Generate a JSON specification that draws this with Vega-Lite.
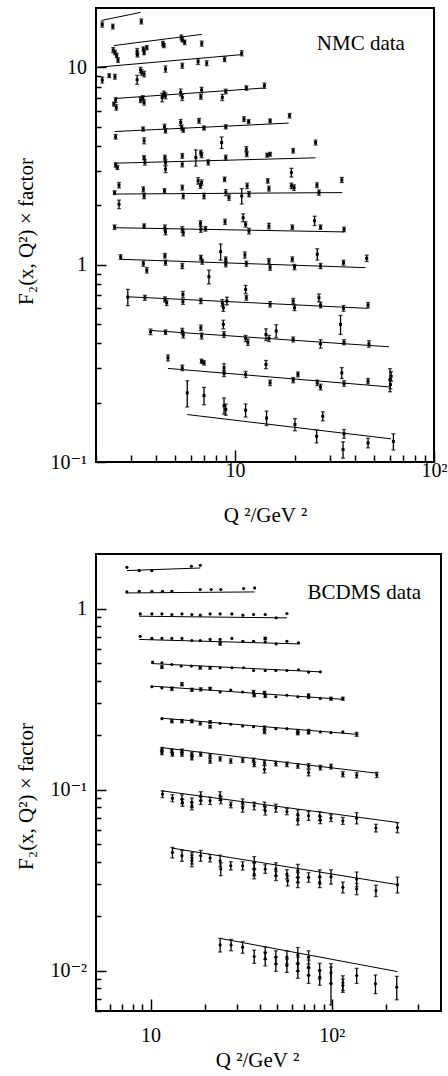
{
  "$schema": "https://vega.github.io/schema/vega-lite/v6.json",
  "padding": {"left": 14, "top": 7, "right": 0, "bottom": 0},
  "bounds": "flush",
  "spacing": 92,
  "config": {
    "font": "Liberation Serif, Times New Roman, Times, DejaVu Serif, serif",
    "view": {"stroke": "black", "strokeWidth": 2},
    "text": {"font": "Liberation Serif, Times New Roman, Times, DejaVu Serif, serif"},
    "axis": {"grid": false, "domain": false, "tickColor": "black", "tickWidth": 1.5, "labelColor": "black", "titleColor": "black", "labelFont": "Liberation Serif, Times New Roman, Times, DejaVu Serif, serif", "titleFont": "Liberation Serif, Times New Roman, Times, DejaVu Serif, serif", "labelFontSize": 20, "titleFontSize": 21, "titleFontWeight": "normal", "labelOverlap": false, "labelFlush": false, "labelBound": false}
  },
  "datasets": {
    "nmcPts": [
      {"q":2.15,"f":16.5,"e":0.5},{"q":2.43,"f":16.1,"e":0.45},{"q":3.38,"f":17.1,"e":0.5},
      {"q":2.44,"f":12.25,"e":0.35},{"q":2.49,"f":11.9,"e":0.3},{"q":2.54,"f":11.5,"e":0.3},{"q":2.58,"f":10.9,"e":0.3},{"q":3.22,"f":12.06,"e":0.4},{"q":3.23,"f":11.6,"e":0.3},{"q":3.46,"f":12.4,"e":0.3},{"q":3.49,"f":11.9,"e":0.3},{"q":3.6,"f":12.6,"e":0.3},{"q":4.34,"f":13.2,"e":0.35},{"q":4.39,"f":12.9,"e":0.3},{"q":5.37,"f":14.2,"e":0.4},{"q":5.43,"f":13.8,"e":0.35},{"q":5.58,"f":13.4,"e":0.35},{"q":6.8,"f":13.2,"e":0.4},
      {"q":2.15,"f":8.63,"e":0.3},{"q":2.33,"f":9.08,"e":0.2},{"q":2.49,"f":8.97,"e":0.25},{"q":3.22,"f":8.66,"e":0.45},{"q":3.35,"f":9.7,"e":0.3},{"q":3.39,"f":9.43,"e":0.3},{"q":3.49,"f":9.26,"e":0.3},{"q":4.47,"f":9.81,"e":0.35},{"q":5.43,"f":10.2,"e":0.3},{"q":6.52,"f":10.7,"e":0.35},{"q":7.2,"f":10.5,"e":0.3},{"q":8.86,"f":11.0,"e":0.3},{"q":10.8,"f":11.8,"e":0.35},
      {"q":2.51,"f":6.83,"e":0.2},{"q":2.46,"f":6.52,"e":0.15},{"q":2.53,"f":6.27,"e":0.2},{"q":3.35,"f":6.83,"e":0.2},{"q":3.44,"f":6.99,"e":0.2},{"q":3.49,"f":6.64,"e":0.2},{"q":4.3,"f":7.04,"e":0.35},{"q":4.39,"f":7.33,"e":0.25},{"q":4.47,"f":7.18,"e":0.25},{"q":5.33,"f":7.47,"e":0.3},{"q":5.43,"f":7.04,"e":0.25},{"q":6.79,"f":7.68,"e":0.25},{"q":6.73,"f":7.1,"e":0.2},{"q":8.63,"f":7.04,"e":0.25},{"q":8.98,"f":7.55,"e":0.2},{"q":11.4,"f":7.86,"e":0.2},{"q":14.05,"f":8.08,"e":0.25},
      {"q":2.51,"f":4.45,"e":0.12},{"q":3.45,"f":4.87,"e":0.12},{"q":3.49,"f":4.25,"e":0.15},{"q":4.42,"f":5.0,"e":0.15},{"q":4.47,"f":4.77,"e":0.12},{"q":5.33,"f":5.26,"e":0.18},{"q":5.39,"f":4.96,"e":0.15},{"q":5.49,"f":4.81,"e":0.12},{"q":6.59,"f":5.36,"e":0.15},{"q":6.98,"f":4.93,"e":0.12},{"q":8.56,"f":4.16,"e":0.28},{"q":8.98,"f":5.0,"e":0.12},{"q":11.09,"f":5.47,"e":0.15},{"q":11.7,"f":5.32,"e":0.12},{"q":15.0,"f":5.36,"e":0.12},{"q":18.8,"f":5.69,"e":0.15},
      {"q":2.51,"f":3.2,"e":0.08},{"q":2.56,"f":3.11,"e":0.07},{"q":3.49,"f":3.49,"e":0.08},{"q":3.52,"f":3.3,"e":0.1},{"q":4.44,"f":3.49,"e":0.1},{"q":4.47,"f":3.3,"e":0.1},{"q":4.47,"f":3.05,"e":0.12},{"q":5.43,"f":3.56,"e":0.1},{"q":5.43,"f":3.23,"e":0.1},{"q":6.35,"f":3.49,"e":0.33},{"q":6.73,"f":3.7,"e":0.1},{"q":6.79,"f":3.59,"e":0.1},{"q":7.33,"f":3.3,"e":0.1},{"q":8.98,"f":3.49,"e":0.1},{"q":11.4,"f":3.85,"e":0.12},{"q":11.45,"f":3.63,"e":0.1},{"q":14.5,"f":3.59,"e":0.08},{"q":15.0,"f":3.63,"e":0.08},{"q":19.6,"f":3.78,"e":0.1},{"q":25.4,"f":4.16,"e":0.12},
      {"q":2.48,"f":2.32,"e":0.05},{"q":2.61,"f":2.53,"e":0.08},{"q":2.61,"f":2.025,"e":0.1},{"q":3.46,"f":2.41,"e":0.07},{"q":3.49,"f":2.23,"e":0.07},{"q":4.42,"f":2.37,"e":0.06},{"q":5.43,"f":2.46,"e":0.07},{"q":5.49,"f":2.23,"e":0.07},{"q":6.52,"f":2.66,"e":0.1},{"q":6.7,"f":2.51,"e":0.07},{"q":6.79,"f":2.61,"e":0.08},{"q":6.98,"f":2.23,"e":0.07},{"q":8.86,"f":2.71,"e":0.07},{"q":8.98,"f":2.32,"e":0.08},{"q":9.32,"f":2.19,"e":0.07},{"q":10.8,"f":2.23,"e":0.2},{"q":11.5,"f":2.51,"e":0.08},{"q":11.75,"f":2.28,"e":0.07},{"q":14.6,"f":2.66,"e":0.07},{"q":14.8,"f":2.43,"e":0.07},{"q":19.2,"f":2.93,"e":0.15},{"q":19.2,"f":2.51,"e":0.08},{"q":19.8,"f":2.46,"e":0.08},{"q":25.8,"f":2.53,"e":0.07},{"q":26.4,"f":2.32,"e":0.07},{"q":34.4,"f":2.69,"e":0.08},
      {"q":2.48,"f":1.55,"e":0.04},{"q":3.49,"f":1.57,"e":0.04},{"q":4.44,"f":1.54,"e":0.05},{"q":4.47,"f":1.466,"e":0.05},{"q":5.43,"f":1.51,"e":0.05},{"q":5.49,"f":1.45,"e":0.05},{"q":6.7,"f":1.62,"e":0.05},{"q":6.73,"f":1.51,"e":0.05},{"q":7.1,"f":1.52,"e":0.04},{"q":8.9,"f":1.65,"e":0.05},{"q":10.98,"f":1.73,"e":0.08},{"q":11.3,"f":1.6,"e":0.05},{"q":11.75,"f":1.48,"e":0.05},{"q":14.8,"f":1.57,"e":0.05},{"q":19.4,"f":1.55,"e":0.04},{"q":25.1,"f":1.67,"e":0.09},{"q":26.9,"f":1.55,"e":0.04},{"q":35.3,"f":1.51,"e":0.04},
      {"q":2.66,"f":1.094,"e":0.03},{"q":3.46,"f":1.012,"e":0.03},{"q":3.6,"f":0.937,"e":0.03},{"q":4.44,"f":1.11,"e":0.03},{"q":4.47,"f":1.024,"e":0.03},{"q":5.43,"f":0.985,"e":0.03},{"q":6.73,"f":1.085,"e":0.03},{"q":6.84,"f":1.036,"e":0.03},{"q":7.39,"f":0.869,"e":0.07},{"q":8.46,"f":1.164,"e":0.11},{"q":8.98,"f":1.065,"e":0.03},{"q":8.98,"f":1.005,"e":0.03},{"q":11.2,"f":1.12,"e":0.04},{"q":11.4,"f":1.012,"e":0.03},{"q":14.8,"f":1.044,"e":0.03},{"q":15.0,"f":0.966,"e":0.03},{"q":19.4,"f":1.065,"e":0.03},{"q":19.9,"f":0.973,"e":0.03},{"q":25.9,"f":1.13,"e":0.075},{"q":26.9,"f":0.985,"e":0.03},{"q":35.1,"f":1.024,"e":0.03},{"q":45.9,"f":1.078,"e":0.04},
      {"q":2.89,"f":0.685,"e":0.065},{"q":3.52,"f":0.68,"e":0.02},{"q":4.44,"f":0.667,"e":0.02},{"q":4.53,"f":0.641,"e":0.02},{"q":5.47,"f":0.707,"e":0.025},{"q":5.47,"f":0.649,"e":0.02},{"q":6.73,"f":0.655,"e":0.02},{"q":8.63,"f":0.641,"e":0.025},{"q":8.73,"f":0.605,"e":0.025},{"q":9.1,"f":0.655,"e":0.03},{"q":11.3,"f":0.75,"e":0.035},{"q":11.4,"f":0.68,"e":0.02},{"q":15.0,"f":0.63,"e":0.02},{"q":19.6,"f":0.655,"e":0.02},{"q":19.9,"f":0.605,"e":0.02},{"q":26.4,"f":0.68,"e":0.03},{"q":26.9,"f":0.624,"e":0.02},{"q":35.1,"f":0.601,"e":0.02},{"q":46.6,"f":0.624,"e":0.02},
      {"q":3.76,"f":0.457,"e":0.015},{"q":4.47,"f":0.455,"e":0.012},{"q":5.43,"f":0.461,"e":0.015},{"q":5.49,"f":0.44,"e":0.015},{"q":6.73,"f":0.479,"e":0.015},{"q":6.79,"f":0.435,"e":0.015},{"q":8.73,"f":0.498,"e":0.025},{"q":8.8,"f":0.443,"e":0.015},{"q":11.3,"f":0.423,"e":0.015},{"q":11.6,"f":0.405,"e":0.015},{"q":14.3,"f":0.443,"e":0.03},{"q":14.8,"f":0.423,"e":0.015},{"q":16.1,"f":0.461,"e":0.035},{"q":19.6,"f":0.418,"e":0.012},{"q":26.9,"f":0.397,"e":0.02},{"q":33.9,"f":0.498,"e":0.055},{"q":35.3,"f":0.405,"e":0.012},{"q":47.1,"f":0.397,"e":0.015},
      {"q":4.6,"f":0.337,"e":0.012},{"q":5.43,"f":0.3,"e":0.01},{"q":6.79,"f":0.324,"e":0.008},{"q":6.98,"f":0.318,"e":0.008},{"q":8.8,"f":0.3,"e":0.015},{"q":8.8,"f":0.281,"e":0.01},{"q":11.3,"f":0.278,"e":0.01},{"q":14.3,"f":0.312,"e":0.015},{"q":15.0,"f":0.252,"e":0.008},{"q":19.6,"f":0.26,"e":0.008},{"q":20.7,"f":0.278,"e":0.008},{"q":25.9,"f":0.252,"e":0.008},{"q":26.9,"f":0.24,"e":0.008},{"q":34.4,"f":0.283,"e":0.018},{"q":35.3,"f":0.25,"e":0.008},{"q":46.6,"f":0.257,"e":0.008},{"q":60.1,"f":0.262,"e":0.035},{"q":60.9,"f":0.272,"e":0.015},{"q":60.4,"f":0.247,"e":0.012},
      {"q":5.75,"f":0.224,"e":0.034},{"q":6.98,"f":0.217,"e":0.022},{"q":8.8,"f":0.193,"e":0.018},{"q":8.98,"f":0.1845,"e":0.012},{"q":11.3,"f":0.183,"e":0.014},{"q":14.4,"f":0.167,"e":0.014},{"q":20.0,"f":0.155,"e":0.011},{"q":27.6,"f":0.1706,"e":0.009},{"q":25.7,"f":0.135,"e":0.01},{"q":35.3,"f":0.139,"e":0.007},{"q":34.9,"f":0.1156,"e":0.011},{"q":46.6,"f":0.125,"e":0.007},{"q":62.5,"f":0.127,"e":0.012}
    ],
    "nmcLines": [
      {"s":"a","q":2.13,"f":17.3},{"s":"a","q":3.35,"f":19.0},
      {"s":"b","q":2.46,"f":12.9},{"s":"b","q":6.8,"f":14.7},
      {"s":"c","q":2.0,"f":10.0},{"s":"c","q":10.7,"f":11.6},
      {"s":"d","q":2.51,"f":6.96},{"s":"d","q":13.97,"f":7.86},
      {"s":"e","q":2.48,"f":4.73},{"s":"e","q":18.6,"f":5.22},
      {"s":"f","q":2.48,"f":3.27},{"s":"f","q":25.4,"f":3.48},
      {"s":"g","q":2.48,"f":2.28},{"s":"g","q":34.6,"f":2.32},
      {"s":"h","q":2.48,"f":1.54},{"s":"h","q":35.3,"f":1.466},
      {"s":"i","q":2.66,"f":1.065},{"s":"i","q":45.3,"f":0.966},
      {"s":"j","q":2.87,"f":0.688},{"s":"j","q":46.2,"f":0.601},
      {"s":"k","q":3.73,"f":0.4645},{"s":"k","q":59.4,"f":0.3836},
      {"s":"l","q":4.6,"f":0.298},{"s":"l","q":60.1,"f":0.24},
      {"s":"m","q":5.75,"f":0.174},{"s":"m","q":60.9,"f":0.131}
    ],
    "bcdPts": [
      {"q":7.4,"f":1.689,"e":0},{"q":8.66,"f":1.62,"e":0},{"q":10.17,"f":1.62,"e":0},{"q":16.8,"f":1.711,"e":0},{"q":18.8,"f":1.732,"e":0},
      {"q":7.4,"f":1.235,"e":0},{"q":8.66,"f":1.245,"e":0},{"q":10.17,"f":1.245,"e":0},{"q":11.64,"f":1.245,"e":0},{"q":13.1,"f":1.245,"e":0},{"q":18.8,"f":1.273,"e":0},{"q":21.6,"f":1.273,"e":0},{"q":24.4,"f":1.273,"e":0},{"q":32.6,"f":1.289,"e":0},{"q":37.5,"f":1.299,"e":0},
      {"q":8.77,"f":0.934,"e":0},{"q":10.17,"f":0.934,"e":0},{"q":11.55,"f":0.934,"e":0},{"q":13.1,"f":0.927,"e":0},{"q":14.9,"f":0.934,"e":0},{"q":16.9,"f":0.927,"e":0},{"q":18.8,"f":0.919,"e":0},{"q":21.3,"f":0.934,"e":0},{"q":24.2,"f":0.934,"e":0},{"q":28.1,"f":0.934,"e":0},{"q":32.3,"f":0.919,"e":0},{"q":37.0,"f":0.927,"e":0},{"q":42.9,"f":0.927,"e":0},{"q":49.3,"f":0.888,"e":0},{"q":56.5,"f":0.939,"e":0},
      {"q":8.77,"f":0.702,"e":0},{"q":10.17,"f":0.684,"e":0},{"q":11.55,"f":0.684,"e":0},{"q":13.1,"f":0.684,"e":0},{"q":14.9,"f":0.684,"e":0},{"q":16.9,"f":0.666,"e":0},{"q":18.8,"f":0.666,"e":0},{"q":21.3,"f":0.675,"e":0},{"q":24.2,"f":0.675,"e":0},{"q":24.2,"f":0.64,"e":0.012},{"q":28.1,"f":0.684,"e":0},{"q":32.3,"f":0.66,"e":0},{"q":37.0,"f":0.66,"e":0},{"q":42.9,"f":0.684,"e":0.01},{"q":42.9,"f":0.655,"e":0},{"q":49.3,"f":0.638,"e":0},{"q":56.5,"f":0.66,"e":0},{"q":65.5,"f":0.646,"e":0},
      {"q":10.26,"f":0.506,"e":0},{"q":11.55,"f":0.502,"e":0},{"q":11.55,"f":0.475,"e":0.008},{"q":13.1,"f":0.491,"e":0},{"q":14.75,"f":0.481,"e":0},{"q":16.8,"f":0.481,"e":0},{"q":18.8,"f":0.471,"e":0.008},{"q":21.3,"f":0.471,"e":0.008},{"q":24.2,"f":0.471,"e":0},{"q":28.1,"f":0.471,"e":0},{"q":32.6,"f":0.471,"e":0},{"q":37.0,"f":0.455,"e":0},{"q":42.9,"f":0.455,"e":0},{"q":49.1,"f":0.455,"e":0},{"q":56.5,"f":0.455,"e":0},{"q":65.5,"f":0.459,"e":0},{"q":74.4,"f":0.446,"e":0},{"q":86.4,"f":0.447,"e":0},
      {"q":10.17,"f":0.37,"e":0},{"q":11.55,"f":0.365,"e":0},{"q":13.1,"f":0.361,"e":0.008},{"q":14.9,"f":0.382,"e":0.008},{"q":16.9,"f":0.356,"e":0.007},{"q":18.9,"f":0.358,"e":0.007},{"q":21.3,"f":0.361,"e":0.006},{"q":24.2,"f":0.346,"e":0},{"q":27.7,"f":0.355,"e":0},{"q":32.2,"f":0.346,"e":0},{"q":37.0,"f":0.346,"e":0.007},{"q":37.3,"f":0.332,"e":0.006},{"q":42.5,"f":0.343,"e":0.006},{"q":42.9,"f":0.329,"e":0.006},{"q":49.1,"f":0.326,"e":0},{"q":56.5,"f":0.332,"e":0},{"q":64.9,"f":0.326,"e":0},{"q":74.4,"f":0.332,"e":0.006},{"q":74.4,"f":0.322,"e":0},{"q":86.4,"f":0.319,"e":0},{"q":98.9,"f":0.318,"e":0.006},{"q":115,"f":0.318,"e":0.006},
      {"q":11.55,"f":0.2465,"e":0},{"q":13.1,"f":0.239,"e":0.005},{"q":14.9,"f":0.239,"e":0.005},{"q":16.9,"f":0.239,"e":0.005},{"q":18.8,"f":0.2325,"e":0.005},{"q":21.3,"f":0.2364,"e":0.004},{"q":21.3,"f":0.2227,"e":0.004},{"q":24.2,"f":0.2325,"e":0},{"q":27.7,"f":0.2296,"e":0},{"q":32.2,"f":0.2246,"e":0},{"q":37.0,"f":0.2227,"e":0},{"q":42.5,"f":0.2198,"e":0.005},{"q":42.5,"f":0.209,"e":0.005},{"q":49.1,"f":0.2171,"e":0},{"q":56.5,"f":0.2171,"e":0},{"q":64.9,"f":0.211,"e":0.004},{"q":64.9,"f":0.2048,"e":0.004},{"q":74.4,"f":0.211,"e":0.004},{"q":74.4,"f":0.2048,"e":0},{"q":86.4,"f":0.2083,"e":0},{"q":98.9,"f":0.2064,"e":0},{"q":115,"f":0.2083,"e":0},{"q":137,"f":0.202,"e":0.005},
      {"q":11.55,"f":0.167,"e":0.004},{"q":11.55,"f":0.16,"e":0.004},{"q":13.1,"f":0.1636,"e":0.004},{"q":13.2,"f":0.157,"e":0.004},{"q":14.9,"f":0.1636,"e":0.004},{"q":14.9,"f":0.157,"e":0.004},{"q":16.9,"f":0.157,"e":0.004},{"q":16.9,"f":0.15,"e":0.004},{"q":18.9,"f":0.157,"e":0.004},{"q":21.3,"f":0.1536,"e":0.004},{"q":21.3,"f":0.144,"e":0.004},{"q":24.2,"f":0.148,"e":0.004},{"q":27.7,"f":0.144,"e":0.004},{"q":32.2,"f":0.1454,"e":0.004},{"q":37.0,"f":0.1454,"e":0.004},{"q":37.3,"f":0.138,"e":0.004},{"q":42.5,"f":0.141,"e":0.004},{"q":42.5,"f":0.1297,"e":0.006},{"q":49.1,"f":0.1393,"e":0.004},{"q":56.5,"f":0.138,"e":0.004},{"q":64.9,"f":0.1353,"e":0.004},{"q":74.4,"f":0.1353,"e":0.004},{"q":74.4,"f":0.1242,"e":0.005},{"q":86.4,"f":0.1324,"e":0.004},{"q":98.9,"f":0.1341,"e":0.004},{"q":115,"f":0.1218,"e":0.004},{"q":137,"f":0.1202,"e":0.004},{"q":177,"f":0.1207,"e":0.004},
      {"q":11.64,"f":0.0945,"e":0.004},{"q":13.2,"f":0.0898,"e":0.004},{"q":14.9,"f":0.0886,"e":0.005},{"q":15.0,"f":0.0849,"e":0.004},{"q":16.9,"f":0.0849,"e":0.005},{"q":16.9,"f":0.0814,"e":0.004},{"q":18.9,"f":0.0924,"e":0.005},{"q":18.9,"f":0.0868,"e":0.004},{"q":21.3,"f":0.0868,"e":0.004},{"q":24.2,"f":0.0924,"e":0.005},{"q":24.4,"f":0.0876,"e":0.004},{"q":27.7,"f":0.0824,"e":0.003},{"q":32.2,"f":0.0849,"e":0.004},{"q":32.2,"f":0.0791,"e":0.004},{"q":37.3,"f":0.0814,"e":0.004},{"q":42.5,"f":0.0814,"e":0.004},{"q":42.9,"f":0.0764,"e":0.004},{"q":49.1,"f":0.0791,"e":0.004},{"q":56.5,"f":0.0757,"e":0.003},{"q":64.9,"f":0.0733,"e":0.004},{"q":64.9,"f":0.0679,"e":0.004},{"q":74.4,"f":0.0717,"e":0.004},{"q":85.7,"f":0.0717,"e":0.004},{"q":86.4,"f":0.0679,"e":0.003},{"q":98.9,"f":0.0697,"e":0.003},{"q":115,"f":0.0673,"e":0.003},{"q":137,"f":0.0697,"e":0.005},{"q":175,"f":0.0614,"e":0.003},{"q":230,"f":0.0618,"e":0.004},
      {"q":13.2,"f":0.045,"e":0.003},{"q":14.9,"f":0.0432,"e":0.003},{"q":16.9,"f":0.0419,"e":0.003},{"q":16.9,"f":0.0405,"e":0.003},{"q":18.9,"f":0.0432,"e":0.003},{"q":21.3,"f":0.0419,"e":0.002},{"q":24.2,"f":0.0405,"e":0.003},{"q":24.4,"f":0.0365,"e":0.003},{"q":27.7,"f":0.038,"e":0.002},{"q":32.2,"f":0.038,"e":0.002},{"q":37.3,"f":0.0397,"e":0.003},{"q":37.3,"f":0.0365,"e":0.003},{"q":37.3,"f":0.0342,"e":0.002},{"q":42.9,"f":0.0365,"e":0.002},{"q":49.1,"f":0.0365,"e":0.003},{"q":49.1,"f":0.0335,"e":0.002},{"q":56.5,"f":0.0342,"e":0.002},{"q":57.0,"f":0.0314,"e":0.002},{"q":64.9,"f":0.0357,"e":0.003},{"q":64.9,"f":0.0328,"e":0.002},{"q":64.9,"f":0.0308,"e":0.002},{"q":74.4,"f":0.0328,"e":0.002},{"q":85.7,"f":0.0331,"e":0.003},{"q":85.7,"f":0.0308,"e":0.002},{"q":98.9,"f":0.0331,"e":0.003},{"q":115,"f":0.0289,"e":0.002},{"q":137,"f":0.0321,"e":0.003},{"q":137,"f":0.0283,"e":0.002},{"q":175,"f":0.0277,"e":0.002},{"q":230,"f":0.0299,"e":0.003},
      {"q":24.2,"f":0.0139,"e":0.0012},{"q":27.8,"f":0.0139,"e":0.001},{"q":32.2,"f":0.0135,"e":0.001},{"q":37.3,"f":0.012,"e":0.001},{"q":42.9,"f":0.01257,"e":0.001},{"q":42.9,"f":0.01165,"e":0.001},{"q":49.1,"f":0.0119,"e":0.001},{"q":49.1,"f":0.01093,"e":0.001},{"q":56.5,"f":0.0119,"e":0.001},{"q":56.5,"f":0.0107,"e":0.0009},{"q":64.9,"f":0.01225,"e":0.0012},{"q":64.9,"f":0.01093,"e":0.001},{"q":64.9,"f":0.01,"e":0.0009},{"q":74.4,"f":0.0119,"e":0.001},{"q":74.4,"f":0.01047,"e":0.001},{"q":74.4,"f":0.00942,"e":0.0009},{"q":85.7,"f":0.01,"e":0.001},{"q":85.7,"f":0.00922,"e":0.0009},{"q":98.9,"f":0.00975,"e":0.0012},{"q":98.9,"f":0.00848,"e":0.002},{"q":115,"f":0.00859,"e":0.0008},{"q":115,"f":0.0083,"e":0.0007},{"q":137,"f":0.00942,"e":0.0009},{"q":174,"f":0.00848,"e":0.001},{"q":228,"f":0.00812,"e":0.0012}
    ],
    "bcdLines": [
      {"s":"1","q":7.4,"f":1.62},{"s":"1","q":18.8,"f":1.674},
      {"s":"2","q":7.4,"f":1.219},{"s":"2","q":37.5,"f":1.235},
      {"s":"3","q":8.66,"f":0.907},{"s":"3","q":56.5,"f":0.888},
      {"s":"4","q":8.66,"f":0.675},{"s":"4","q":65.5,"f":0.638},
      {"s":"5","q":10.09,"f":0.497},{"s":"5","q":86.4,"f":0.447},
      {"s":"6","q":10.09,"f":0.373},{"s":"6","q":116,"f":0.315},
      {"s":"7","q":11.55,"f":0.248},{"s":"7","q":137.4,"f":0.202},
      {"s":"8","q":11.55,"f":0.1706},{"s":"8","q":177,"f":0.1233},
      {"s":"9","q":11.55,"f":0.0985},{"s":"9","q":230,"f":0.0659},
      {"s":"10","q":13.1,"f":0.0476},{"s":"10","q":230,"f":0.0299},
      {"s":"11","q":24.2,"f":0.0151},{"s":"11","q":230,"f":0.0099}
    ]
  },
  "vconcat": [
    {
      "width": 338,
      "height": 454,
      "encoding": {
        "x": {"field": "q", "type": "quantitative", "scale": {"type": "log", "domain": [2, 100], "nice": false},
          "axis": {"values": [2,3,4,5,6,7,8,9,10,20,30,40,50,60,70,80,90,100],
            "labelExpr": "datum.value == 10 ? '10' : datum.value == 100 ? '10²' : ''",
            "tickSize": {"condition": {"test": "datum.value == 10 || datum.value == 100", "value": -12}, "value": -7},
            "labelPadding": 10.5, "title": "Q ²/GeV ²", "titleBaseline": "alphabetic", "titleY": 59}},
        "y": {"field": "f", "type": "quantitative", "scale": {"type": "log", "domain": [0.1, 20], "nice": false},
          "axis": {"values": [0.1,0.2,0.3,0.4,0.5,0.6,0.7,0.8,0.9,1,2,3,4,5,6,7,8,9,10],
            "labelExpr": "datum.value == 0.1 ? '10⁻¹' : datum.value == 1 ? '1' : datum.value == 10 ? '10' : ''",
            "tickSize": {"condition": {"test": "datum.value == 0.1 || datum.value == 1 || datum.value == 10", "value": -10}, "value": -5},
            "labelPadding": 19.5, "title": "F₂(x, Q²) × factor", "titleBaseline": "alphabetic", "titleX": -64, "titleY": 223}}
      },
      "layer": [
        {"data": {"name": "nmcLines"}, "mark": {"type": "line", "color": "black", "strokeWidth": 1}, "encoding": {"detail": {"field": "s"}}},
        {"data": {"name": "nmcPts"}, "mark": {"type": "errorbar", "ticks": true, "size": 4, "thickness": 1.3, "color": "black"}, "encoding": {"yError": {"field": "e"}}},
        {"data": {"name": "nmcPts"}, "mark": {"type": "square", "size": 9, "color": "black", "opacity": 1}},
        {"data": {"values": [{"t": "NMC data", "q": 42.9, "f": 13.2}]}, "mark": {"type": "text", "fontSize": 21, "color": "black", "align": "center", "baseline": "middle"},
          "encoding": {"text": {"field": "t"}}}
      ]
    },
    {
      "width": 345,
      "height": 457,
      "encoding": {
        "x": {"field": "q", "type": "quantitative", "scale": {"type": "log", "domain": [5, 400], "nice": false},
          "axis": {"values": [5,6,7,8,9,10,20,30,40,50,60,70,80,90,100,200,300],
            "labelExpr": "datum.value == 10 ? '10' : datum.value == 100 ? '10²' : ''",
            "tickSize": {"condition": {"test": "datum.value == 10 || datum.value == 100", "value": -12}, "value": -7},
            "labelPadding": 26, "title": "Q ²/GeV ²", "titleBaseline": "alphabetic", "titleY": 55, "titleX": 161}},
        "y": {"field": "f", "type": "quantitative", "scale": {"type": "log", "domain": [0.006, 2], "nice": false},
          "axis": {"values": [0.006,0.007,0.008,0.009,0.01,0.02,0.03,0.04,0.05,0.06,0.07,0.08,0.09,0.1,0.2,0.3,0.4,0.5,0.6,0.7,0.8,0.9,1],
            "labelExpr": "datum.value == 0.01 ? '10⁻²' : datum.value == 0.1 ? '10⁻¹' : datum.value == 1 ? '1' : ''",
            "tickSize": {"condition": {"test": "datum.value == 0.01 || datum.value == 0.1 || datum.value == 1", "value": -10}, "value": -5},
            "labelPadding": 19.5, "title": "F₂(x, Q²) × factor", "titleBaseline": "alphabetic", "titleX": -64, "titleY": 242}}
      },
      "layer": [
        {"data": {"name": "bcdLines"}, "mark": {"type": "line", "color": "black", "strokeWidth": 1}, "encoding": {"detail": {"field": "s"}}},
        {"data": {"name": "bcdPts"}, "transform": [{"filter": "datum.e > 0"}], "mark": {"type": "errorbar", "ticks": true, "size": 4, "thickness": 1.3, "color": "black"}, "encoding": {"yError": {"field": "e"}}},
        {"data": {"name": "bcdPts"}, "mark": {"type": "circle", "size": 10, "color": "black", "opacity": 1}},
        {"data": {"values": [{"t": "BCDMS data", "q": 151, "f": 1.214}]}, "mark": {"type": "text", "fontSize": 21, "color": "black", "align": "center", "baseline": "middle"},
          "encoding": {"text": {"field": "t"}}}
      ]
    }
  ]
}
